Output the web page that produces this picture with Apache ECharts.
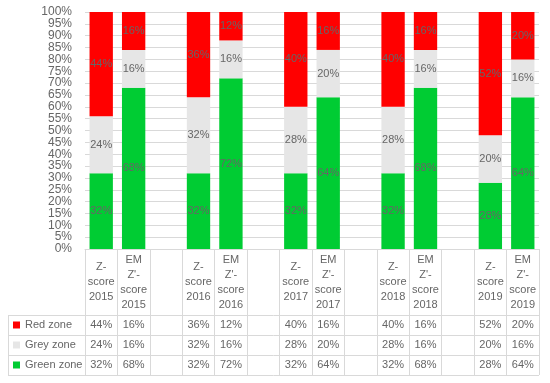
<!DOCTYPE html>
<html><head><meta charset="utf-8">
<script src="https://cdn.jsdelivr.net/npm/echarts@6/dist/echarts.min.js"></script>
<style>html,body{margin:0;padding:0;background:#fff}#c{width:550px;height:383px}</style>
</head><body><div id="c"></div>
<script>
var categories = ['Z-\nscore\n2015', "EM\nZ'-\nscore\n2015", '', 'Z-\nscore\n2016', "EM\nZ'-\nscore\n2016", '', 'Z-\nscore\n2017', "EM\nZ'-\nscore\n2017", '', 'Z-\nscore\n2018', "EM\nZ'-\nscore\n2018", '', 'Z-\nscore\n2019', "EM\nZ'-\nscore\n2019"];
var redZone   = [44, 16, null, 36, 12, null, 40, 16, null, 40, 16, null, 52, 20];
var greyZone  = [24, 16, null, 32, 16, null, 28, 20, null, 28, 16, null, 20, 16];
var greenZone = [32, 68, null, 32, 72, null, 32, 64, null, 32, 68, null, 28, 64];
var yTicks = {min: 0, max: 100, interval: 5};

var TXT = '#666666', LINE = '#d9d9d9', FONT = 'Liberation Sans, Arial, sans-serif';
var GL = 85, GR = 11, GT = 12, GB = 134, W = 550, H = 383;
var axisY = H - GB;               // 249
var headerH = 66, rowH = 20, tableLeft = 8;
var pct = function (arr) { return arr.map(function (v) { return v == null ? '' : v + '%'; }); };

var rows = [['Red zone', redZone], ['Grey zone', greyZone], ['Green zone', greenZone]];
var xAxes = [{
  type: 'category', data: categories, position: 'bottom',
  axisLine: {lineStyle: {color: LINE}},
  axisTick: {show: true, length: headerH + rowH * 3, interval: 0, lineStyle: {color: LINE}},
  axisLabel: {interval: 0, color: TXT, fontSize: 11, fontFamily: FONT, lineHeight: 15, margin: headerH / 2, verticalAlign: 'middle'}
}];
rows.forEach(function (r, i) {
  xAxes.push({
    type: 'category', data: pct(r[1]), position: 'bottom', gridIndex: 0,
    axisLine: {show: false}, axisTick: {show: false}, splitLine: {show: false},
    axisLabel: {interval: 0, color: TXT, fontSize: 11, fontFamily: FONT, margin: headerH + rowH * i + rowH / 2, verticalAlign: 'middle'}
  });
});

var graphics = [];
for (var i = 0; i <= 3; i++) {
  var y = axisY + headerH + rowH * i + 0.5;
  graphics.push({type: 'line', shape: {x1: tableLeft, y1: y, x2: W - GR, y2: y}, style: {stroke: LINE, lineWidth: 1}, silent: true});
}
graphics.push({type: 'line', shape: {x1: tableLeft + 0.5, y1: axisY + headerH, x2: tableLeft + 0.5, y2: axisY + headerH + rowH * 3}, style: {stroke: LINE, lineWidth: 1}, silent: true});

var lbl = {show: true, position: 'inside', color: TXT, fontSize: 11, fontFamily: FONT, formatter: function (p) { return p.value == null ? '' : p.value + '%'; }};
function mk(name, data, color) {
  return {name: name, type: 'bar', stack: 'all', data: data, barWidth: '72%', itemStyle: {color: color}, label: lbl, xAxisIndex: 0};
}

var chart = echarts.init(document.getElementById('c'), null, {renderer: 'canvas'});
chart.setOption({
  animation: false,
  textStyle: {fontFamily: FONT},
  grid: {left: GL, right: GR, top: GT, bottom: GB, containLabel: false},
  legend: {
    orient: 'vertical', left: 13, top: axisY + headerH + 3, itemGap: 6, padding: 0,
    icon: 'rect', itemWidth: 7, itemHeight: 7, selectedMode: false,
    data: ['Red zone', 'Grey zone', 'Green zone'],
    textStyle: {color: TXT, fontSize: 11, fontFamily: FONT, lineHeight: 14}
  },
  xAxis: xAxes,
  yAxis: {
    type: 'value', min: yTicks.min, max: yTicks.max, interval: yTicks.interval,
    axisLine: {show: false}, axisTick: {show: false},
    splitLine: {lineStyle: {color: LINE}},
    axisLabel: {formatter: '{value}%', color: TXT, fontSize: 12, fontFamily: FONT, margin: 13,
      showMinLabel: true, showMaxLabel: true}
  },
  graphic: graphics,
  series: [
    mk('Green zone', greenZone, '#00cc33'),
    mk('Grey zone', greyZone, '#e6e6e6'),
    mk('Red zone', redZone, '#ff0000')
  ]
});
</script></body></html>
